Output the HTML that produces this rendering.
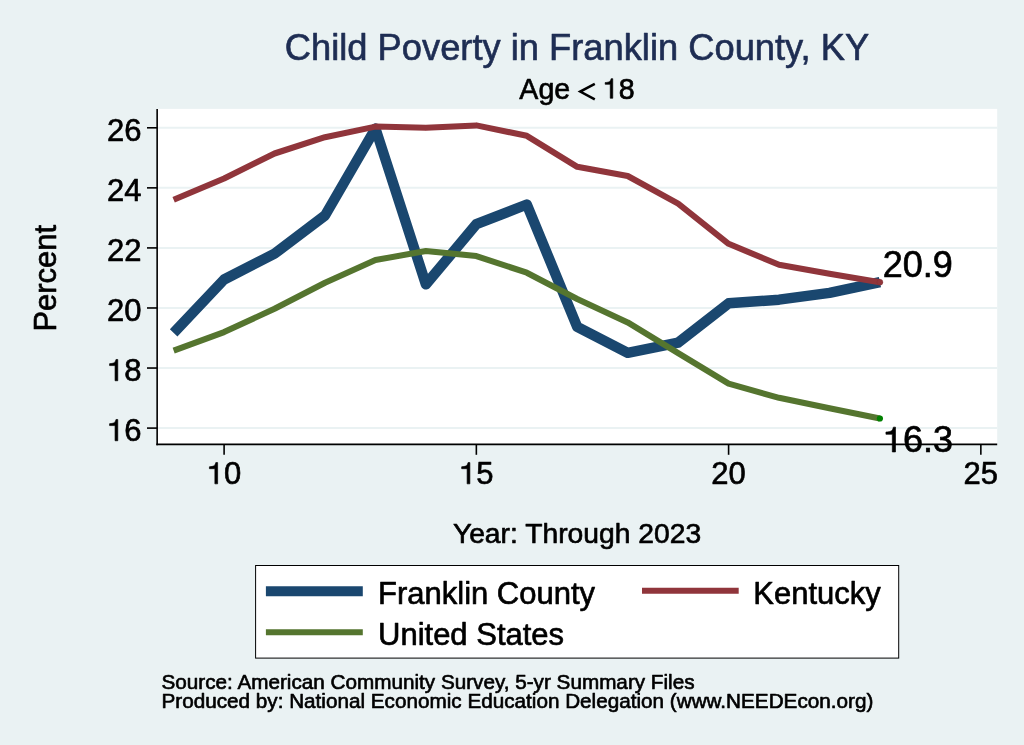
<!DOCTYPE html>
<html><head><meta charset="utf-8"><title>Child Poverty in Franklin County, KY</title>
<style>
html,body{margin:0;padding:0;background:#eaf2f3;}
body{width:1024px;height:745px;overflow:hidden;font-family:"Liberation Sans",sans-serif;}
svg{display:block;will-change:transform;}
svg path{fill:#000;stroke:#000;stroke-width:0.65px;stroke-linejoin:round;}
svg text{font-family:"Liberation Sans",sans-serif;fill:#000;stroke:#000;stroke-width:0.65px;stroke-linejoin:round;}
</style></head><body>
<svg width="1024" height="745" viewBox="0 0 1024 745">
<rect x="0" y="0" width="1024" height="745" fill="#eaf2f3"/>
<rect x="157.15" y="108.9" width="840.05" height="335.50" fill="#ffffff"/>
<g stroke="#eaf2f3" stroke-width="2"><line x1="157.15" x2="997.2" y1="428.10" y2="428.10"/><line x1="157.15" x2="997.2" y1="368.04" y2="368.04"/><line x1="157.15" x2="997.2" y1="307.98" y2="307.98"/><line x1="157.15" x2="997.2" y1="247.92" y2="247.92"/><line x1="157.15" x2="997.2" y1="187.86" y2="187.86"/><line x1="157.15" x2="997.2" y1="127.80" y2="127.80"/></g>
<g fill="none" stroke-linejoin="round" stroke-linecap="butt">
<polyline stroke="#1a476f" stroke-width="10.4" points="173.65,332.90 224.10,279.50 274.55,253.70 325.00,215.50 375.45,128.50 425.90,284.40 476.35,224.20 526.80,204.50 577.25,326.90 627.70,352.80 678.15,342.70 728.60,303.30 779.05,299.70 829.50,292.90 879.95,282.20"/>
<polyline stroke="#90353b" stroke-width="6.05" points="173.65,199.80 224.10,178.50 274.55,153.50 325.00,137.20 375.45,126.60 425.90,127.85 476.35,125.40 526.80,135.80 577.25,166.80 627.70,176.00 678.15,203.70 728.60,243.80 779.05,264.80 829.50,273.70 879.95,282.20"/>
<polyline stroke="#55752f" stroke-width="6.05" points="173.65,350.70 224.10,332.10 274.55,308.70 325.00,282.80 375.45,260.10 425.90,251.00 476.35,256.10 526.80,272.70 577.25,299.00 627.70,322.40 678.15,353.20 728.60,383.70 779.05,397.80 829.50,408.30 879.95,418.50"/>
</g>
<circle cx="879.9" cy="282.2" r="3.0" fill="#90353b" stroke="#7c2d33" stroke-width="0.4"/>
<circle cx="879.9" cy="418.5" r="3.1" fill="#008000"/>
<g stroke="#000" stroke-width="1.6">
<line x1="157.15" x2="157.15" y1="108.9" y2="445.2"/>
<line x1="156.35" x2="997.2" y1="444.4" y2="444.4"/>
<line x1="147" x2="157.15" y1="428.10" y2="428.10"/><line x1="147" x2="157.15" y1="368.04" y2="368.04"/><line x1="147" x2="157.15" y1="307.98" y2="307.98"/><line x1="147" x2="157.15" y1="247.92" y2="247.92"/><line x1="147" x2="157.15" y1="187.86" y2="187.86"/><line x1="147" x2="157.15" y1="127.80" y2="127.80"/><line x1="224.10" x2="224.10" y1="444.4" y2="454.8"/><line x1="476.35" x2="476.35" y1="444.4" y2="454.8"/><line x1="728.60" x2="728.60" y1="444.4" y2="454.8"/><line x1="980.85" x2="980.85" y1="444.4" y2="454.8"/>
</g>
<g font-size="31" ><path d="M115.06 425.59 L115.06 440.75 L117.78 440.75 L117.78 419.47 L115.99 419.47 C115.03 422.74 114.41 423.19 109.57 423.70 L109.57 425.59 Z"/><text x="124.26" y="441.10" xml:space="preserve">6</text></g><g font-size="31" ><path d="M115.06 365.59 L115.06 380.75 L117.78 380.75 L117.78 359.47 L115.99 359.47 C115.03 362.74 114.41 363.19 109.57 363.70 L109.57 365.59 Z"/><text x="124.26" y="381.10" xml:space="preserve">8</text></g><g font-size="31" ><text x="107.03" y="321.10" xml:space="preserve">20</text></g><g font-size="31" ><text x="107.03" y="261.10" xml:space="preserve">22</text></g><g font-size="31" ><text x="107.03" y="201.10" xml:space="preserve">24</text></g><g font-size="31" ><text x="107.03" y="141.10" xml:space="preserve">26</text></g><g font-size="31" ><path d="M214.89 468.69 L214.89 483.85 L217.62 483.85 L217.62 462.57 L215.82 462.57 C214.86 465.84 214.24 466.29 209.41 466.80 L209.41 468.69 Z"/><text x="224.10" y="484.20" xml:space="preserve">0</text></g><g font-size="31" ><path d="M467.14 468.69 L467.14 483.85 L469.87 483.85 L469.87 462.57 L468.07 462.57 C467.11 465.84 466.49 466.29 461.66 466.80 L461.66 468.69 Z"/><text x="476.35" y="484.20" xml:space="preserve">5</text></g><g font-size="31" ><text x="711.36" y="484.20" xml:space="preserve">20</text></g><g font-size="31" ><text x="963.61" y="484.20" xml:space="preserve">25</text></g>
<text x="882.8" y="277.2" font-size="36">20.9</text>
<g font-size="36" ><path d="M892.32 434.27 L892.32 451.95 L895.49 451.95 L895.49 427.13 L893.40 427.13 C892.29 430.94 891.57 431.47 885.95 432.06 L885.95 434.27 Z"/><text x="903.02" y="452.30" xml:space="preserve">6.3</text></g>
<text x="577" y="59.5" font-size="36.3" text-anchor="middle" style="fill:#1e2d53;stroke:#1e2d53">Child Poverty in Franklin County, KY</text>
<g font-size="28.6" ><text x="519.36" y="98.60" xml:space="preserve">Age </text><text x="594.89" y="98.60" xml:space="preserve"> </text><path d="M610.25 84.31 L610.25 98.25 L612.76 98.25 L612.76 78.67 L611.11 78.67 C610.22 81.68 609.65 82.10 605.19 82.57 L605.19 84.31 Z"/><text x="618.74" y="98.60" xml:space="preserve">8</text></g><polyline points="594.8,83.8 580.2,91.6 594.8,99.4" fill="none" stroke="#000" stroke-width="2.5" stroke-linejoin="miter"/>
<text transform="translate(55.5,278.2) rotate(-90)" font-size="31" text-anchor="middle">Percent</text>
<text x="577" y="543.3" font-size="28.25" text-anchor="middle">Year: Through 2023</text>
<rect x="255.6" y="565.5" width="643.1" height="92.6" fill="#ffffff" stroke="#000" stroke-width="1"/>
<line x1="265.9" x2="362.8" y1="591.2" y2="591.2" stroke="#1a476f" stroke-width="10.1"/>
<line x1="265.9" x2="362.8" y1="632.35" y2="632.35" stroke="#55752f" stroke-width="6"/>
<line x1="642" x2="738.7" y1="590.8" y2="590.8" stroke="#90353b" stroke-width="6"/>
<g font-size="31">
<text x="378" y="603.6">Franklin County</text>
<text x="378" y="644.5">United States</text>
<text x="753.3" y="603.6">Kentucky</text>
</g>
<g font-size="20.7" style="stroke-width:0.45px">
<text x="161.5" y="688.7">Source: American Community Survey, 5-yr Summary Files</text>
<text x="161.5" y="708.3">Produced by: National Economic Education Delegation (www.NEEDEcon.org)</text>
</g>
</svg>
</body></html>
